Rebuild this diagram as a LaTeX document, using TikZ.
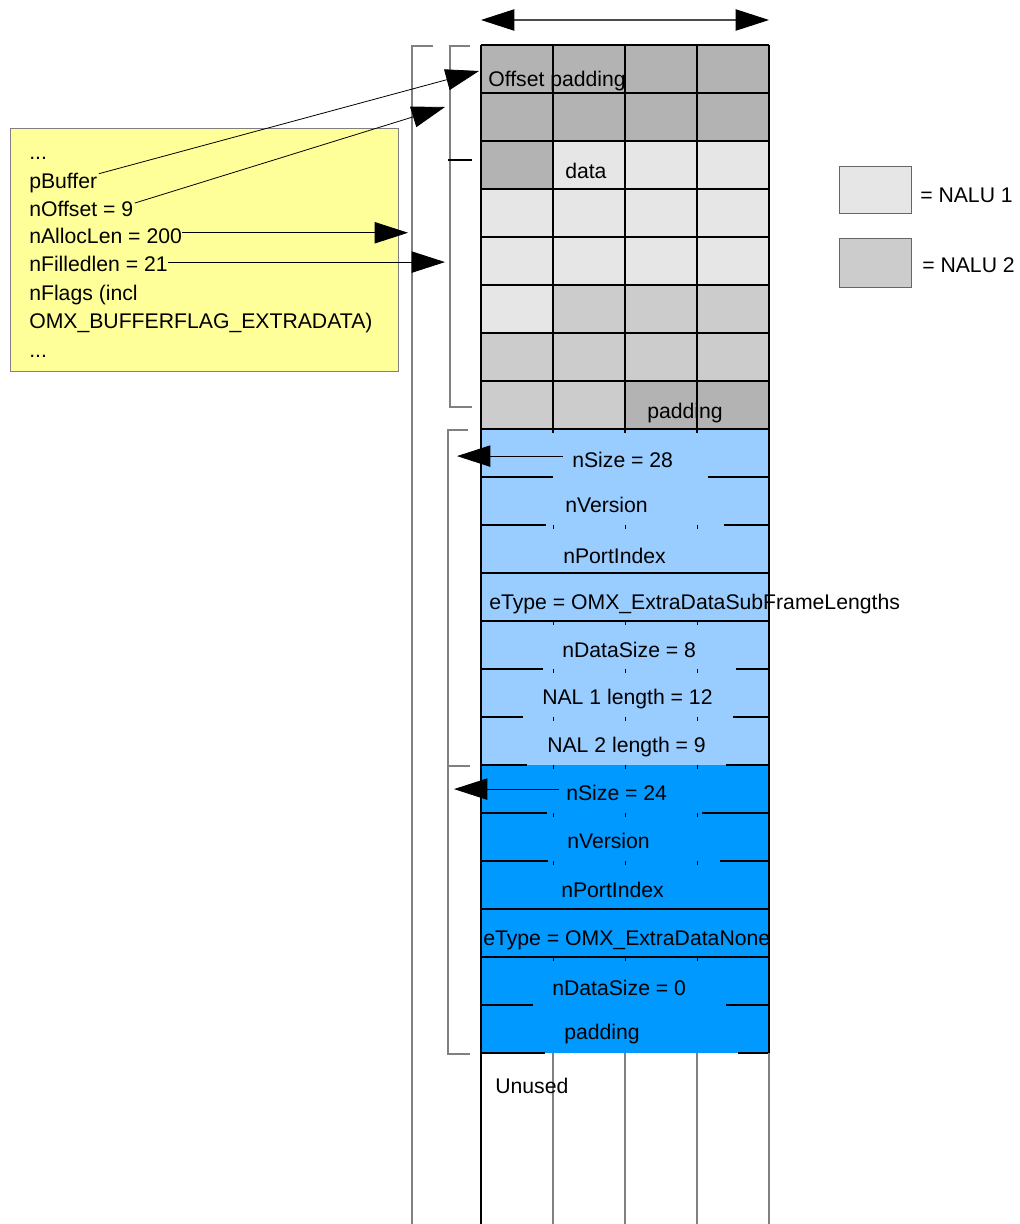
\documentclass[tikz,border=0pt]{standalone}
\usepackage{fontspec}
\setmainfont{Liberation Sans}
\usetikzlibrary{arrows.meta}
\definecolor{dgrey}{HTML}{B3B3B3}
\definecolor{lgrey}{HTML}{E6E6E6}
\definecolor{mgrey}{HTML}{CCCCCC}
\definecolor{lblue}{HTML}{99CCFF}
\definecolor{dblue}{HTML}{0099FF}
\definecolor{yel}{HTML}{FFFF99}
\definecolor{brk}{HTML}{808080}
\begin{document}
\begin{tikzpicture}[x=0.75pt,y=-0.75pt,
  font=\fontsize{15.9}{18}\selectfont,
  txt/.style={inner sep=0pt, anchor=base west},
  tip/.style={-{Triangle[length=25pt,width=16pt]}, line width=0.6pt},
  gl/.style={line width=0.8pt, black},
  ul/.style={line width=0.8pt, brk},
  bk/.style={line width=0.9pt, brk}]
\useasboundingbox (0,0) rectangle (1020,1224);

% ---- top width arrow
\coordinate (tl) at (481,20);
\coordinate (tr) at (769,20);
\draw[{Triangle[length=25pt,width=16pt,color=black,fill=black]}-{Triangle[length=25pt,width=16pt,color=black,fill=black]}, line width=0.8pt, black!70] (tl) -- (tr);

% ---- grey cells
\fill[dgrey] (481,45) rectangle (769,141);
\fill[dgrey] (481,141) rectangle (553,189);
\fill[dgrey] (625,381) rectangle (769,429);
\fill[lgrey] (553,141) rectangle (769,189);
\fill[lgrey] (481,189) rectangle (769,285);
\fill[lgrey] (481,285) rectangle (553,333);
\fill[mgrey] (553,285) rectangle (769,333);
\fill[mgrey] (481,333) rectangle (769,381);
\fill[mgrey] (481,381) rectangle (625,429);

% ---- blue areas
\fill[lblue] (481,429) rectangle (769,765);
\fill[dblue] (481,765) rectangle (769,1053);

% ---- grid lines of grey area
\foreach \xx in {481,553,625,697,769} \draw[gl] (\xx,45) -- (\xx,433);
\foreach \yy in {45,93,141,189,237,285,333,381,429} \draw[gl] (481,\yy) -- (769,\yy);

% ---- blue area lines
\draw[gl] (481,429) -- (481,1053);
\draw[gl] (769,429) -- (769,1053);
\foreach \yy in {573,621,909,957} \draw[gl] (481,\yy) -- (769,\yy);
\foreach \yy/\a/\b in {477/553/708, 525/546/724, 669/543/736, 717/523/733, 765/527/726, 813/547/702, 861/548/720, 1005/533/726, 1053/545/738}
  {\draw[gl] (481,\yy) -- (\a,\yy); \draw[gl] (\b,\yy) -- (769,\yy);}
\foreach \yy in {429,525,621,669,717,765,813,861,957}
  \foreach \xx in {553,625,697} \draw[gl, line width=0.6pt] (\xx,\yy) -- (\xx,\yy+4);

% ---- unused area
\draw[gl] (481,1053) -- (481,1224);
\foreach \xx in {553,625,697,769} \draw[ul] (\xx,1053) -- (\xx,1224);

% ---- brackets
\draw[bk] (433,46) -- (412,46) -- (412,1224);
\draw[bk] (470,46) -- (450,46) -- (450,407) -- (472,407);
\draw[gl] (448,160) -- (472,160);
\draw[bk] (468,430) -- (448,430) -- (448,1054) -- (470,1054);
\draw[bk] (447,766) -- (470,766);

% ---- texts in buffer
\node[txt] (offp) at (488,86) {Offset padding};
\node[txt] (data) at (565,178) {data};
\node[txt] (pad1) at (647,418) {padding};
\node[txt] (s28) at (572,467) {nSize = 28};
\node[txt] (v1) at (565,512) {nVersion};
\node[txt] (p1) at (563,563) {nPortIndex};
\node[txt] (e1) at (489,609) {eType = OMX\_ExtraDataSubFrameLengths};
\node[txt] (d8) at (562,657) {nDataSize = 8};
\node[txt] (nal1) at (542,704) {NAL 1 length = 12};
\node[txt] (nal2) at (547,752) {NAL 2 length = 9};
\node[txt] (s24) at (566,800) {nSize = 24};
\node[txt] (v2) at (567,848) {nVersion};
\node[txt] (p2) at (561,897) {nPortIndex};
\node[txt] (e2) at (483,945) {eType = OMX\_ExtraDataNone};
\node[txt] (d0) at (552,995) {nDataSize = 0};
\node[txt] (pad2) at (564,1039) {padding};
\node[txt] (unused) at (495,1093) {Unused};

% ---- legend
\node[draw=black!60, line width=0.8pt, fill=lgrey, minimum width=54pt, minimum height=35.5pt, inner sep=0pt, anchor=north west] (leg1) at (839,166) {};
\node[draw=black!60, line width=0.8pt, fill=mgrey, minimum width=54pt, minimum height=36.5pt, inner sep=0pt, anchor=north west] (leg2) at (839,238) {};
\node[txt] (l1) at (920,202) {= NALU 1};
\node[txt] (l2) at (922,272) {= NALU 2};

% ---- yellow struct box
\node[draw=brk, line width=0.8pt, fill=yel, minimum width=291pt, minimum height=182pt, inner sep=0pt, anchor=north west] (box) at (10,128) {};
\node[txt] (y1) at (29,159) {...};
\node[txt] (pb) at (29,188) {pBuffer};
\node[txt] (no) at (29,216) {nOffset = 9};
\node[txt] (na) at (29,243) {nAllocLen = 200};
\node[txt] (nf) at (29,271) {nFilledlen = 21};
\node[txt] (nfl) at (29,300) {nFlags (incl};
\node[txt] (omx) at (29,328) {OMX\_BUFFERFLAG\_EXTRADATA)};
\node[txt] (y2) at (29,357) {...};

% ---- arrows
\coordinate (tpb) at (479,71);
\coordinate (tno) at (445,107);
\coordinate (tna) at (408,0);
\coordinate (tnf) at (445,0);
\coordinate (t28) at (457,0);
\coordinate (t24) at (454,0);
\draw[tip] ([xshift=1pt,yshift=-1pt]pb.north east) -- (tpb);
\draw[tip] ([xshift=1pt,yshift=-2pt]no.north east) -- (tno);
\draw[tip] ([yshift=2pt]na.east) -- ([yshift=2pt]na.east -| tna);
\draw[tip] ([yshift=1pt]nf.east) -- ([yshift=1pt]nf.east -| tnf);
\draw[tip] ([xshift=-7pt,yshift=2.5pt]s28.west) -- ([yshift=2.5pt]s28.west -| t28);
\draw[tip] ([xshift=-5pt,yshift=2.5pt]s24.west) -- ([yshift=2.5pt]s24.west -| t24);
\end{tikzpicture}
\end{document}
